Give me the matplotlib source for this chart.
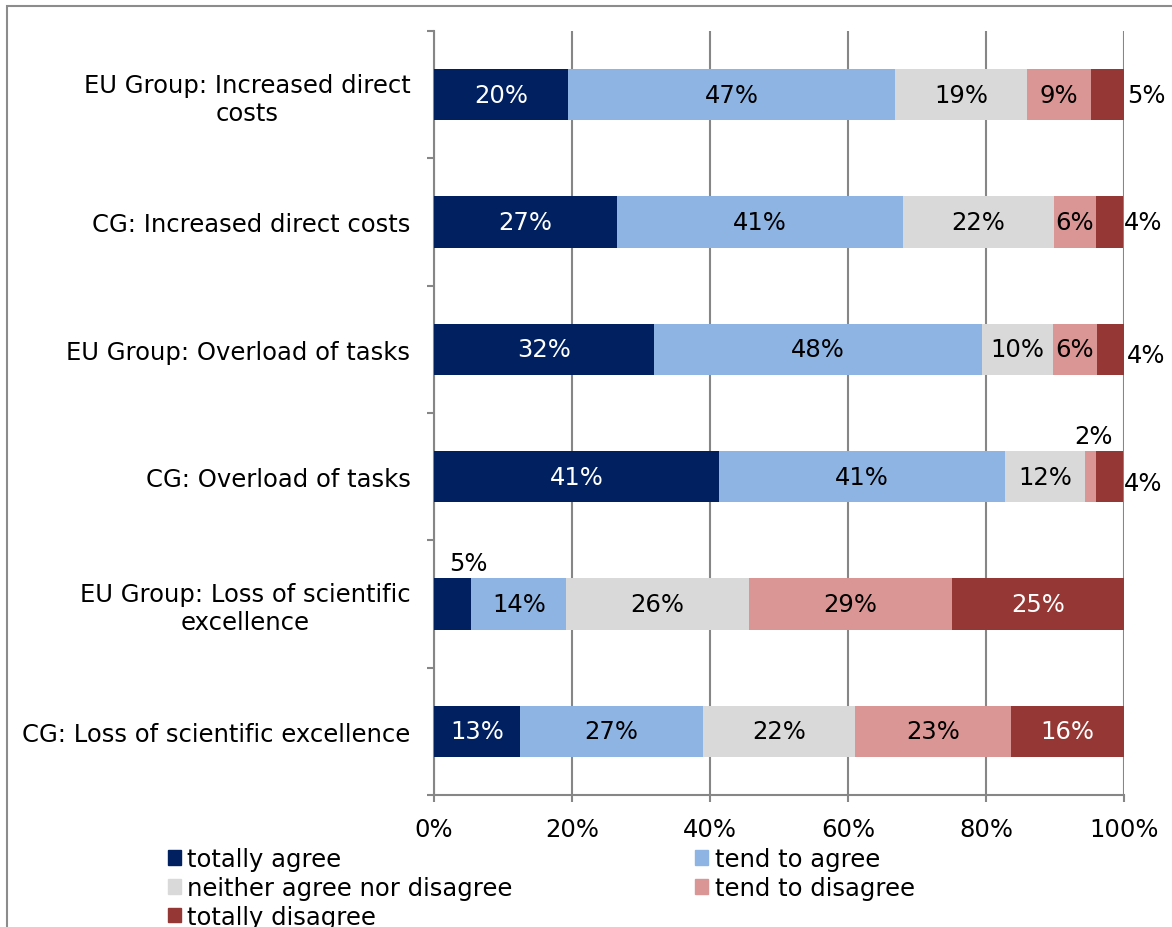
import matplotlib.pyplot as plt
from matplotlib.patches import Patch, Rectangle
import numpy as np

categories = ['EU Group: Increased direct\ncosts',
              'CG: Increased direct costs',
              'EU Group: Overload of tasks',
              'CG: Overload of tasks',
              'EU Group: Loss of scientific\nexcellence',
              'CG: Loss of scientific excellence']
series = ['totally agree', 'tend to agree', 'neither agree nor disagree',
          'tend to disagree', 'totally disagree']
colors = ['#002060', '#8EB4E3', '#D9D9D9', '#DA9694', '#953735']

# shares (percent)
totally_agree = [19.4, 26.5, 31.9, 41.3, 5.4, 12.5]
tend_agree = [47.4, 41.4, 47.5, 41.4, 13.8, 26.5]
neither = [19.1, 21.9, 10.3, 11.7, 26.4, 22.0]
tend_disagree = [9.3, 6.2, 6.4, 1.6, 29.4, 22.6]
totally_disagree = [4.8, 3.9, 3.9, 3.9, 25.1, 16.4]
values = [totally_agree, tend_agree, neither, tend_disagree, totally_disagree]

# printed labels
labels = [[20, 27, 32, 41, 5, 13],
          [47, 41, 48, 41, 14, 27],
          [19, 22, 10, 12, 26, 22],
          [9, 6, 6, 2, 29, 23],
          [5, 4, 4, 4, 25, 16]]

# labels moved off the bar: (series, row) -> (dx px, dy px, ha, anchor)
moved = {(4, 0): (3, 0, 'left', 'end'),
         (4, 1): (1, 0, 'left', 'end'),
         (4, 2): (3, -6, 'left', 'end'),
         (4, 3): (1, -6, 'left', 'end'),
         (3, 3): (3, 41, 'center', 'mid'),
         (0, 4): (16, 41, 'center', 'mid')}

plt.rcParams['font.family'] = 'DejaVu Sans'
fs = 17.5

fig = plt.figure(figsize=(11.72, 9.28), dpi=100)
ax = fig.add_axes([434 / 1172, 1 - 796 / 928, 690 / 1172, 764 / 928])

y = np.arange(len(categories))
left = np.zeros(len(categories))
for s, (vals, col) in enumerate(zip(values, colors)):
    vals = np.array(vals)
    ax.barh(y, vals, left=left, height=0.404, color=col, zorder=3, label=series[s])
    for r in range(len(categories)):
        txt = f'{labels[s][r]}%'
        tc = 'white' if s in (0, 4) else 'black'
        if (s, r) in moved:
            dx, dy, ha, anc = moved[(s, r)]
            x0 = left[r] + vals[r] if anc == 'end' else left[r] + vals[r] / 2
            ax.annotate(txt, (x0, r), xytext=(dx * 0.72, dy * 0.72),
                        textcoords='offset points', ha=ha, va='center',
                        fontsize=fs, color='black', zorder=4)
        else:
            ax.text(left[r] + vals[r] / 2, r, txt, ha='center', va='center',
                    fontsize=fs, color=tc, zorder=4)
    left += vals

ax.set_xlim(0, 100)
ax.set_ylim(len(categories) - 0.5, -0.5)
ax.set_xticks(np.arange(0, 101, 20))
ax.set_xticklabels([f'{v}%' for v in range(0, 101, 20)], fontsize=fs)
ax.set_yticks(y)
ax.set_yticklabels(categories, fontsize=fs, multialignment='center')
ax.set_yticks(np.arange(-0.5, len(categories)), minor=True)
ax.tick_params(axis='y', which='major', length=0, pad=17)
ax.tick_params(axis='y', which='minor', length=5, color='#868686', width=1.5)
ax.tick_params(axis='x', length=5, color='#868686', width=1.5, pad=11)
ax.xaxis.grid(True, color='#868686', linewidth=1.5, zorder=0)
ax.set_axisbelow(True)
for side in ('top', 'right'):
    ax.spines[side].set_visible(False)
for side in ('left', 'bottom'):
    ax.spines[side].set_color('#868686')
    ax.spines[side].set_linewidth(1.5)

handles = [Patch(color=c) for c in colors]
order = [0, 2, 4, 1, 3]
fig.legend([handles[i] for i in order], [series[i] for i in order],
           loc='upper left', bbox_to_anchor=(168 / 1172, 1 - 848 / 928),
           ncol=2, frameon=False, fontsize=fs, handlelength=0.55,
           handleheight=0.55, handletextpad=0.25, labelspacing=0.2,
           columnspacing=7.5, borderaxespad=0, borderpad=0)

fig.patches.append(Rectangle((7 / 1172, -0.1), 1.2, 1 - 7 / 928 + 0.1,
                             transform=fig.transFigure, fill=False,
                             edgecolor='#8c8c8c', linewidth=1.5))

fig.savefig('out.png', dpi=100)
